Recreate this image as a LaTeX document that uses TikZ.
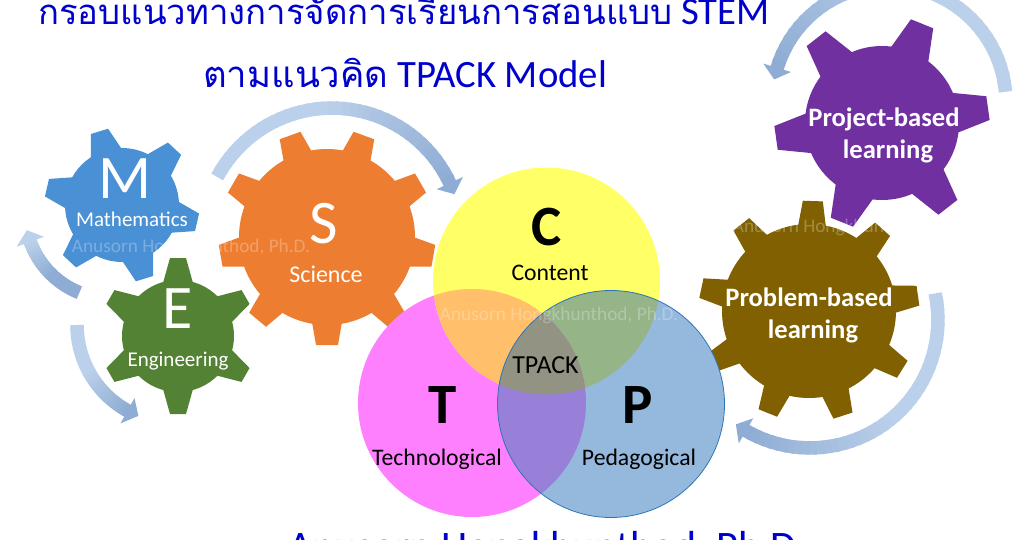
\documentclass[tikz,border=0pt]{standalone}
\usepackage{fontspec}
\setmainfont{Carlito}
\newfontfamily\thaifont[Script=Thai]{Loma}
\usepackage{tikz}

% gear: colour, cx, cy, body radius, tip radius, teeth, first angle, base half width, tip half width
\newcommand{\gearwheel}[9]{
  \fill [#1] (#2,#3) circle [radius=#4];
  \foreach \i in {1,...,#6} {
    \pgfmathsetmacro{\ang}{#7+(\i-1)*360/#6}
    \fill [#1,shift={(#2,#3)},rotate=-\ang] (#4-3,-#8) -- (#5,-#9) -- (#5,#9) -- (#4-3,#8) -- cycle;
  }
}
% curved arrow: cx, cy, radius, start angle, end angle, tail colour, head colour
\newcommand{\bendarrow}[7]{
  \foreach \k in {0,...,39} {
    \pgfmathsetmacro{\aa}{#4+(#5-#4)*\k/40}
    \pgfmathsetmacro{\ab}{#4+(#5-#4)*(\k+1.4)/40}
    \pgfmathsetmacro{\mixval}{max(0,100*(\k-18)/21)}
    \draw [line width=13.5pt,color=#7!\mixval!#6] ({#1+#3*cos(\aa)},{#2+#3*sin(\aa)}) -- ({#1+#3*cos(\ab)},{#2+#3*sin(\ab)});
  }
  \pgfmathsetmacro{\sgn}{#5>#4 ? 1 : -1}
  \pgfmathsetmacro{\atip}{#5+\sgn*690/#3}
  \fill [#7] ({#1+(#3-14.5)*cos(#5)},{#2+(#3-14.5)*sin(#5)}) -- ({#1+#3*cos(\atip)},{#2+#3*sin(\atip)}) -- ({#1+(#3+14.5)*cos(#5)},{#2+(#3+14.5)*sin(#5)}) -- cycle;
}

\definecolor{titleblue}{HTML}{0000CC}
\definecolor{arrowlight}{HTML}{BBD0EA}
\definecolor{arrowdark}{HTML}{8FADD4}
\definecolor{mathblue}{HTML}{4A90D4}
\definecolor{enggreen}{HTML}{548235}
\definecolor{sciorange}{HTML}{ED7D31}
\definecolor{projpurple}{HTML}{7030A0}
\definecolor{probbrown}{HTML}{806000}

\begin{document}
\begin{tikzpicture}[x=1pt,y=-1pt]
  \tikzset{every node/.style={anchor=base,inner sep=0pt,font=\fontsize{23.7}{26}\selectfont},
    gearlabel/.style={text=white,font=\fontsize{21}{24}\selectfont},
    boldlabel/.style={text=white,font=\fontsize{26.6}{30}\selectfont\bfseries},
    bigletter/.style={text=white,font=\fontsize{62}{70}\selectfont},
    vennletter/.style={font=\fontsize{57}{60}\selectfont\bfseries},
    titleline/.style={anchor=base west,text=titleblue,font=\fontsize{38.7}{42}\selectfont},
    watermark/.style={text=white,text opacity=0.27,font=\fontsize{19.3}{22}\selectfont}}
  \useasboundingbox (0,0) rectangle (1027,540);
  \clip (0,0) rectangle (1027,540);

  \node [titleline] (title1) at (38,25) {{\thaifont\fontsize{34.7}{40}\selectfont กรอบแนวทางการจัดการเรียนการสอนแบบ} STEM};
  \node [titleline] (title2) at (203,88) {{\thaifont\fontsize{36.5}{40}\selectfont ตามแนวคิด} TPACK Model};
  \node [titleline,font=\fontsize{42}{44}\selectfont] (author) at (288,560) {Anusorn  Hongkhunthod, Ph.D.};

  \bendarrow{332}{238}{130}{-152}{-25}{arrowlight}{arrowdark}
  \bendarrow{112}{212}{87}{112}{160}{arrowdark}{arrowlight}
  \bendarrow{175}{325}{98}{180}{119}{arrowlight}{arrowdark}
  \bendarrow{889}{102}{117}{-5}{-163}{arrowlight}{arrowdark}
  \bendarrow{810}{320}{128}{-12}{120}{arrowlight}{arrowdark}

  \gearwheel{projpurple}{882}{123}{77}{107}{6}{-8}{20}{12}
  \gearwheel{probbrown}{809}{311}{87}{110}{9}{-88}{14}{10}
  \gearwheel{mathblue}{122}{205}{57}{77}{6}{13}{16}{9}
  \gearwheel{enggreen}{178}{336}{56}{78}{6}{-90}{15}{8}
  \gearwheel{sciorange}{327}{237}{88}{108}{9}{90}{15}{11}

  % circles, overlaps get their own colours
  \fill [color={rgb,255:red,255;green,128;blue,255}] (472,403) circle [radius=114];
  \fill [color={rgb,255:red,255;green,255;blue,102}] (546.5,281) circle [radius=113.5];
  \fill [color={rgb,255:red,149;green,185;blue,220}] (611,404) circle [radius=113.5];
  \begin{scope}
    \clip (546.5,281) circle [radius=113.5];
    \fill [color={rgb,255:red,255;green,191;blue,107}] (472,403) circle [radius=114];
    \fill [color={rgb,255:red,149;green,180;blue,135}] (611,404) circle [radius=113.5];
  \end{scope}
  \begin{scope}
    \clip (611,404) circle [radius=113.5];
    \fill [color={rgb,255:red,152;green,128;blue,216}] (472,403) circle [radius=114];
    \clip (472,403) circle [radius=114];
    \fill [color={rgb,255:red,146;green,147;blue,130}] (546.5,281) circle [radius=113.5];
  \end{scope}
  \draw [color={rgb,255:red,46;green,117;blue,182},line width=0.8pt] (611,404) circle [radius=113.5];

  \node [watermark] (mark1) at (191,252) {Anusorn  Hongkhunthod, Ph.D.};
  \node [watermark] (mark2) at (559,320) {Anusorn  Hongkhunthod, Ph.D.};
  \node [watermark] (mark3) at (852,232) {Anusorn  Hongkhunthod, Ph.D.};

  \node [bigletter] (mLetter) at (125,198) {M};
  \node [gearlabel] (mLabel) at (132,226) {Mathematics};
  \node [bigletter] (eLetter) at (178,328) {E};
  \node [gearlabel] (eLabel) at (178,366) {Engineering};
  \node [bigletter] (sLetter) at (324,243) {S};
  \node [gearlabel,font=\fontsize{24}{26}\selectfont] (sLabel) at (326,282) {Science};
  \node [boldlabel] (projLabel1) at (884,127) {Project-based};
  \node [boldlabel] (projLabel2) at (888,159) {learning};
  \node [boldlabel] (probLabel1) at (809,306) {Problem-based};
  \node [boldlabel] (probLabel2) at (813,338) {learning};

  \node [vennletter] (cLetter) at (547,245) {C};
  \node (cLabel) at (550,280) {Content};
  \node [vennletter] (tLetter) at (442.5,423) {T};
  \node (tLabel) at (437,465) {Technological};
  \node [vennletter] (pLetter) at (638,423) {P};
  \node (pLabel) at (639,465) {Pedagogical};
  \node [font=\fontsize{26}{28}\selectfont] (tpackLabel) at (545.5,373) {TPACK};
\end{tikzpicture}
\end{document}
